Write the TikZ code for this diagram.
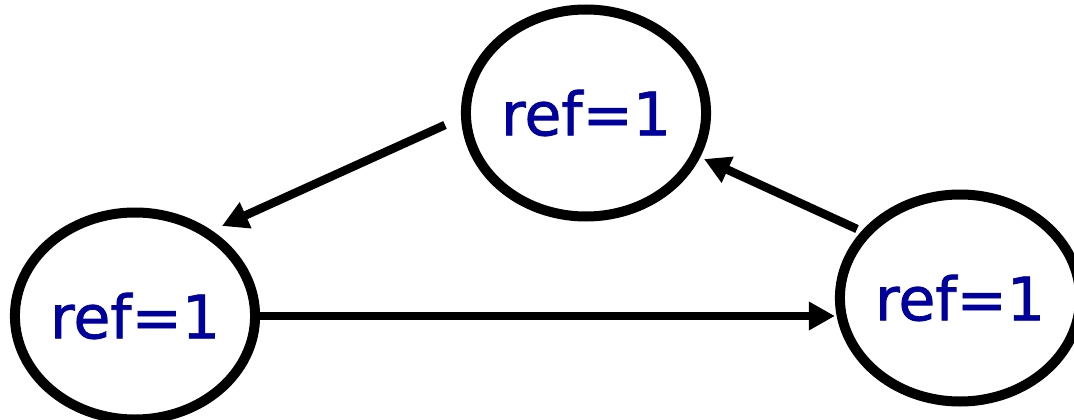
\documentclass[tikz,border=0pt]{standalone}
\usepackage{fontspec}
\setmainfont{DejaVu Sans}
\newfontfamily\labelfont[FakeBold=1.2]{DejaVu Sans}
\usetikzlibrary{arrows.meta,shapes.geometric}
\definecolor{refblue}{RGB}{0,0,155}
\newcommand{\reflabel}{\raisebox{-5pt}{ref=1}}
\tikzset{
  obj/.style={ellipse, draw=black, line width=10pt, minimum width=238pt,
    minimum height=207pt, inner sep=0pt, text=refblue,
    font=\labelfont\fontsize{60}{62}\selectfont},
  ptr/.style={line width=8.5pt, -{Triangle[length=26pt,width=27pt]}}
}
\begin{document}
\begin{tikzpicture}[x=1pt,y=-1pt]
  \useasboundingbox (0,0) rectangle (1074,420);
  \node[obj] (top) at (586,113) {\reflabel};
  \node[obj] (lft) at (135,316) {\reflabel};
  \node[obj] (rgt) at (960,298) {\reflabel};
  % loose ends of the two slanted pointers
  \coordinate (topout) at (445,125);
  \coordinate (lftin) at (222,226);
  \coordinate (rgtout) at (857,229);
  \coordinate (topin) at (704,159);
  \draw[ptr] (topout) -- (lftin);
  \draw[ptr] (rgtout) -- (topin);
  \draw[ptr] (lft.east) -- (lft.east -| rgt.west);
\end{tikzpicture}
\end{document}
